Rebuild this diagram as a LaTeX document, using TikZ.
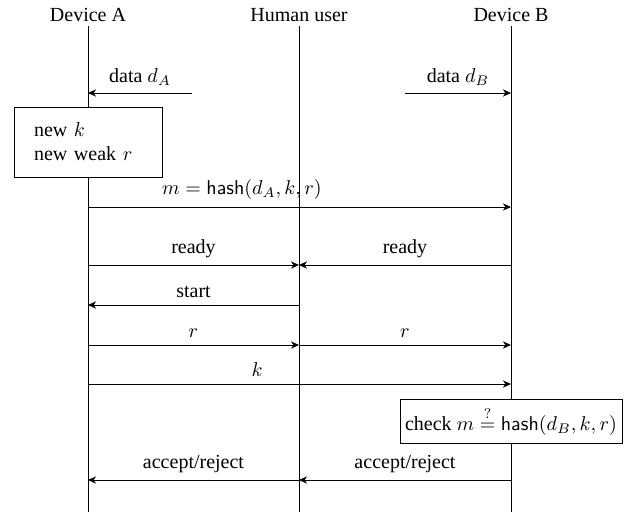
\documentclass[tikz,border=0pt]{standalone}
\usepackage{amsmath}
\usepackage{fontspec}
\setmainfont{Liberation Serif}
\usetikzlibrary{arrows.meta}

\begin{document}
\begin{tikzpicture}[x=0.5pt,y=-0.5pt,
  msg/.style={thin,-{Stealth[length=4pt,width=3.6pt,inset=1.2pt]}},
  actor/.style={inner sep=2pt},
  stepnote/.style={draw,thin,fill=white}]
\useasboundingbox (0,0) rectangle (641,515);
\node[actor] (devA) at (88,15) {Device A};
\node[actor] (user) at (299,15) {Human user};
\node[actor] (devB) at (511,15) {Device B};
\coordinate (endA) at (88,512);
\coordinate (endH) at (299,512);
\coordinate (endB) at (511,512);
\draw [thin] (devA) -- (endA);
\draw [thin] (user) -- (endH);
\draw [thin] (devB) -- (endB);
\coordinate (srcA) at (192,93);
\coordinate (srcB) at (405,93);
\coordinate (a1) at (88,93);
\coordinate (b1) at (511,93);
\coordinate (a2) at (88,207);
\coordinate (b2) at (511,207);
\coordinate (a3) at (88,265);
\coordinate (h3) at (299,265);
\coordinate (b3) at (511,265);
\coordinate (a4) at (88,305);
\coordinate (h4) at (299,305);
\coordinate (a5) at (88,345);
\coordinate (h5) at (299,345);
\coordinate (b5) at (511,345);
\coordinate (a6) at (88,384);
\coordinate (b6) at (511,384);
\coordinate (a7) at (88,480);
\coordinate (h7) at (299,480);
\coordinate (b7) at (511,480);
\draw [msg] (srcA) -- node[above] {data $d_A$} (a1);
\draw [msg] (srcB) -- node[above] {data $d_B$} (b1);
\node[stepnote,align=left,text width=54pt,inner xsep=10pt,minimum height=35pt] (gen) at (88,142) {new $k$\\ new weak $r$};
\draw [msg] (a2) -- node[above,pos=0.364] {$m = \mathsf{hash}(d_A,k,r)$} (b2);
\draw [msg] (a3) -- node[above] {ready} (h3);
\draw [msg] (b3) -- node[above] {ready} (h3);
\draw [msg] (h4) -- node[above] {start} (a4);
\draw [msg] (a5) -- node[above] {$r$} (h5);
\draw [msg] (h5) -- node[above] {$r$} (b5);
\draw [msg] (a6) -- node[above,pos=0.4] {$k$} (b6);
\node[stepnote,inner sep=2.5pt,minimum height=22pt] (check) at (511,421) {check $m \stackrel{?}{=} \mathsf{hash}(d_B,k,r)$};
\draw [msg] (b7) -- node[above] {accept/reject} (h7);
\draw [msg] (h7) -- node[above] {accept/reject} (a7);
\end{tikzpicture}
\end{document}
